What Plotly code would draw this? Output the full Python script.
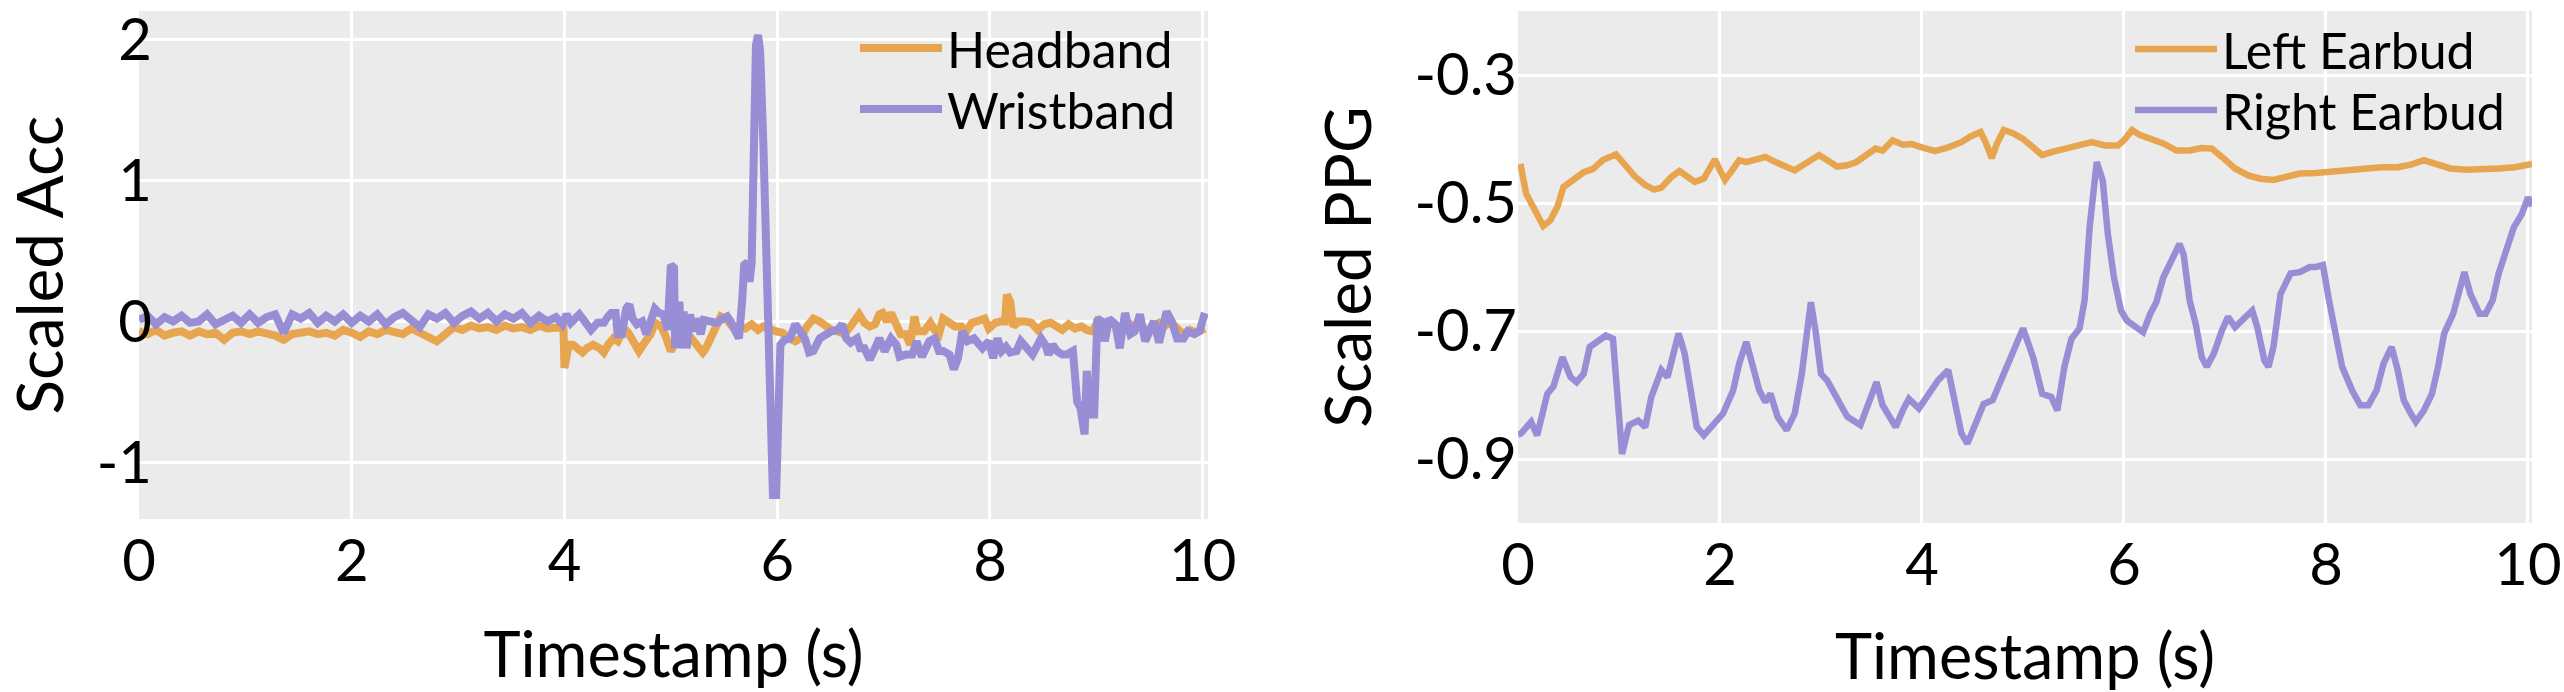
import plotly.graph_objects as go

# ---------------- Left panel: Scaled Acc ----------------
head_t = [0.00, 0.08, 0.16, 0.24, 0.32, 0.40, 0.48, 0.56, 0.64, 0.72, 0.80, 0.88, 0.96, 1.04, 1.12,
          1.20, 1.28, 1.36, 1.44, 1.52, 1.60, 1.68, 1.76, 1.84, 1.92, 2.00, 2.08, 2.16, 2.24, 2.32,
          2.40, 2.48, 2.56, 2.64, 2.72, 2.80, 2.88, 2.96, 3.04, 3.12, 3.20, 3.28, 3.36, 3.44, 3.52,
          3.60, 3.68, 3.76, 3.84, 3.92, 3.99,
          4.00, 4.04, 4.08, 4.12, 4.17, 4.21, 4.27, 4.33, 4.37, 4.41, 4.46, 4.50, 4.56, 4.60, 4.64,
          4.70, 4.74, 4.77, 4.81, 4.85, 4.91, 4.95, 5.00, 5.03, 5.08, 5.14, 5.20, 5.25, 5.30, 5.33,
          5.37, 5.43, 5.47, 5.53, 5.59, 5.64, 5.70, 5.76, 5.82, 5.87, 5.93, 5.99, 6.05, 6.11, 6.17,
          6.22, 6.28, 6.34, 6.40, 6.46, 6.51, 6.57, 6.63, 6.69, 6.73, 6.77, 6.82, 6.87, 6.92, 6.96,
          6.99, 7.03, 7.07, 7.12, 7.16, 7.21, 7.25, 7.29, 7.32, 7.38, 7.44, 7.48, 7.52, 7.56, 7.62,
          7.67, 7.73, 7.77, 7.83, 7.89, 7.95, 7.99, 8.05, 8.10, 8.14, 8.16, 8.19, 8.22, 8.27, 8.33,
          8.39, 8.45, 8.51, 8.57, 8.63, 8.68, 8.74, 8.80, 8.86, 8.91, 8.97, 9.01, 9.07, 9.13, 9.18,
          9.24, 9.30, 9.36, 9.41, 9.47, 9.53, 9.59, 9.64, 9.70, 9.76, 9.82, 9.88, 9.94, 10.02]
head_v = [-0.07, -0.09, -0.06, -0.10, -0.08, -0.07, -0.10, -0.07, -0.09, -0.08, -0.13, -0.08, -0.07, -0.09, -0.07,
          -0.08, -0.10, -0.13, -0.09, -0.08, -0.07, -0.09, -0.08, -0.10, -0.06, -0.08, -0.11, -0.07, -0.09, -0.06,
          -0.07, -0.09, -0.05, -0.08, -0.10, -0.14, -0.09, -0.04, -0.06, -0.03, -0.05, -0.04, -0.06, -0.03, -0.05,
          -0.04, -0.06, -0.03, -0.05, -0.04, -0.04,
          -0.33, -0.165, -0.165, -0.19, -0.22, -0.19, -0.165, -0.19, -0.22, -0.165, -0.12, -0.14, -0.05, -0.08, -0.14,
          -0.21, -0.165, -0.14, -0.09, -0.01, -0.035, -0.105, -0.21, -0.165, -0.06, -0.07, -0.12, -0.165, -0.22, -0.19,
          -0.12, 0.00, 0.035, 0.01, -0.05, -0.035, -0.05, -0.02, -0.06, -0.035, -0.06, -0.07, -0.08, -0.12, -0.14,
          -0.12, -0.035, 0.02, 0.00, -0.035, -0.06, -0.07, -0.09, -0.035, 0.02, 0.05, -0.01, -0.035, -0.02, 0.05,
          0.06, 0.00, 0.06, -0.02, -0.09, -0.09, -0.165, 0.035, -0.07, -0.07, -0.01, -0.06, -0.09, 0.02, -0.02,
          -0.035, -0.035, -0.08, -0.01, 0.00, 0.02, -0.05, -0.01, 0.00, 0.00, 0.19, 0.14, -0.035, 0.00, 0.00,
          -0.01, -0.06, -0.02, -0.01, -0.035, -0.06, -0.02, -0.05, -0.035, -0.06, -0.07, 0.00, -0.035, 0.00, -0.035,
          -0.06, -0.01, -0.035, -0.01, -0.07, -0.035, -0.01, -0.035, 0.00, -0.05, -0.09, -0.06, -0.08, -0.05]

wrist_t = [0.00, 0.08, 0.16, 0.24, 0.32, 0.40, 0.48, 0.56, 0.64, 0.72, 0.80, 0.88, 0.96, 1.04, 1.12,
           1.20, 1.28, 1.36, 1.44, 1.52, 1.60, 1.68, 1.76, 1.84, 1.92, 2.00, 2.08, 2.16, 2.24, 2.32,
           2.40, 2.48, 2.56, 2.64, 2.72, 2.80, 2.88, 2.96, 3.04, 3.12, 3.20, 3.28, 3.36, 3.44, 3.52,
           3.60, 3.68, 3.76, 3.84, 3.92,
           3.98, 4.02, 4.06, 4.14, 4.19, 4.25, 4.31, 4.37, 4.41, 4.44, 4.48, 4.50, 4.54, 4.58, 4.61,
           4.64, 4.68, 4.73, 4.77, 4.81, 4.85, 4.89, 4.93, 4.97, 5.00, 5.03, 5.04, 5.06, 5.08, 5.10,
           5.12, 5.15, 5.18, 5.21, 5.24, 5.28, 5.31, 5.37, 5.43, 5.47, 5.53, 5.57, 5.64, 5.67, 5.69,
           5.72, 5.74, 5.76, 5.78, 5.80, 5.82, 5.84, 5.87, 5.89, 5.92, 5.94, 5.96, 5.99, 6.01, 6.03,
           6.07, 6.12, 6.17, 6.22, 6.26, 6.30, 6.34, 6.40, 6.45, 6.51, 6.57, 6.61, 6.65, 6.69, 6.75,
           6.78, 6.82, 6.87, 6.92, 6.96, 7.01, 7.07, 7.12, 7.15, 7.21, 7.27, 7.31, 7.36, 7.43, 7.48,
           7.52, 7.56, 7.62, 7.66, 7.70, 7.74, 7.79, 7.85, 7.93, 7.99, 8.03, 8.07, 8.11, 8.15, 8.19,
           8.25, 8.29, 8.35, 8.40, 8.45, 8.48, 8.52, 8.55, 8.59, 8.63, 8.68, 8.72, 8.78, 8.82, 8.85,
           8.89, 8.91, 8.94, 8.98, 9.01, 9.05, 9.08, 9.12, 9.18, 9.22, 9.27, 9.32, 9.36, 9.41, 9.46,
           9.50, 9.54, 9.59, 9.66, 9.71, 9.76, 9.82, 9.86, 9.92, 9.97, 10.02]
wrist_v = [0.01, 0.04, -0.02, 0.03, 0.00, 0.04, -0.01, 0.00, 0.05, -0.02, 0.01, 0.04, -0.01, 0.05, -0.01,
           0.03, 0.05, -0.08, 0.05, 0.02, 0.06, -0.01, 0.04, 0.00, 0.05, -0.01, 0.04, 0.00, 0.05, -0.02,
           0.03, 0.06, 0.01, -0.04, 0.05, 0.02, 0.06, -0.01, 0.04, 0.07, 0.02, 0.06, 0.00, 0.05, 0.02,
           0.06, -0.01, 0.04, 0.00, 0.03,
           -0.02, 0.05, -0.01, 0.05, 0.00, -0.06, -0.01, -0.01, 0.035, 0.06, 0.06, -0.09, -0.09, 0.09, 0.12,
           0.02, -0.02, 0.00, -0.09, 0.00, 0.09, 0.06, 0.05, -0.06, 0.40, 0.38, -0.19, 0.00, 0.14, -0.19,
           0.07, -0.19, 0.05, -0.07, 0.02, -0.09, 0.01, 0.00, -0.01, 0.01, 0.035, -0.01, -0.12, 0.14, 0.40,
           0.42, 0.28, 0.42, 1.27, 1.96, 2.03, 1.91, 1.25, 0.61, 0.00, -0.75, -1.23, -1.23, -0.47, -0.165,
           -0.13, -0.12, -0.02, -0.09, -0.12, -0.22, -0.21, -0.12, -0.09, -0.07, -0.06, -0.02, -0.12, -0.15, -0.12,
           -0.19, -0.19, -0.27, -0.19, -0.12, -0.21, -0.12, -0.165, -0.25, -0.235, -0.235, -0.14, -0.25, -0.14, -0.12,
           -0.21, -0.21, -0.235, -0.34, -0.26, -0.07, -0.14, -0.12, -0.19, -0.14, -0.26, -0.12, -0.21, -0.18, -0.22,
           -0.21, -0.14, -0.19, -0.235, -0.165, -0.12, -0.165, -0.235, -0.165, -0.21, -0.235, -0.235, -0.21, -0.57, -0.61,
           -0.80, -0.35, -0.66, -0.66, 0.02, 0.00, -0.14, 0.02, -0.02, -0.19, 0.06, -0.09, -0.07, 0.05, -0.14,
           -0.07, 0.00, -0.15, 0.07, 0.00, -0.12, -0.12, -0.07, -0.09, -0.07, 0.06]

# ---------------- Right panel: Scaled PPG ----------------
left_t = [0.00, 0.03, 0.08, 0.16, 0.25, 0.32, 0.39, 0.45, 0.55, 0.65, 0.74, 0.84, 0.97, 1.06, 1.16,
          1.26, 1.35, 1.42, 1.52, 1.60, 1.68, 1.75, 1.84, 1.90, 1.95, 2.00, 2.05, 2.12, 2.19, 2.26,
          2.35, 2.45, 2.55, 2.65, 2.74, 2.84, 2.92, 2.98, 3.06, 3.16, 3.26, 3.35, 3.45, 3.54, 3.61,
          3.71, 3.81, 3.90, 4.00, 4.13, 4.26, 4.39, 4.48, 4.58, 4.63, 4.69, 4.74, 4.81, 4.90, 5.00,
          5.10, 5.19, 5.29, 5.42, 5.55, 5.68, 5.81, 5.94, 6.00, 6.08, 6.16, 6.26, 6.39, 6.52, 6.65,
          6.77, 6.87, 6.97, 7.10, 7.23, 7.35, 7.48, 7.61, 7.74, 7.90, 8.06, 8.23, 8.39, 8.55, 8.71,
          8.84, 8.97, 9.10, 9.23, 9.39, 9.55, 9.71, 9.87, 10.04]
left_v = [-0.445, -0.444, -0.485, -0.511, -0.536, -0.527, -0.506, -0.475, -0.462, -0.452, -0.447, -0.433, -0.424, -0.441, -0.459,
          -0.472, -0.479, -0.476, -0.459, -0.450, -0.459, -0.467, -0.462, -0.446, -0.432, -0.449, -0.464, -0.449, -0.433, -0.436,
          -0.432, -0.428, -0.436, -0.443, -0.449, -0.439, -0.431, -0.425, -0.433, -0.443, -0.441, -0.436, -0.425, -0.415, -0.418,
          -0.402, -0.409, -0.408, -0.413, -0.419, -0.413, -0.405, -0.396, -0.389, -0.405, -0.430, -0.408, -0.386, -0.391, -0.400,
          -0.413, -0.425, -0.420, -0.415, -0.410, -0.405, -0.410, -0.410, -0.402, -0.386, -0.394, -0.400, -0.407, -0.418, -0.418,
          -0.414, -0.415, -0.428, -0.446, -0.457, -0.462, -0.464, -0.459, -0.454, -0.453, -0.451, -0.449, -0.445, -0.444, -0.444,
          -0.440, -0.433, -0.440, -0.446, -0.448, -0.448, -0.446, -0.444, -0.439]

right_t = [0.00, 0.03, 0.13, 0.19, 0.29, 0.35, 0.44, 0.52, 0.58, 0.65, 0.71, 0.81, 0.87, 0.94, 0.98,
           1.03, 1.10, 1.19, 1.26, 1.32, 1.42, 1.48, 1.54, 1.59, 1.65, 1.71, 1.77, 1.84, 1.94, 2.03,
           2.13, 2.19, 2.26, 2.32, 2.39, 2.45, 2.50, 2.57, 2.66, 2.74, 2.81, 2.86, 2.90, 2.95, 3.00,
           3.06, 3.16, 3.26, 3.39, 3.48, 3.55, 3.61, 3.74, 3.81, 3.87, 3.97, 4.06, 4.16, 4.26, 4.32,
           4.39, 4.45, 4.52, 4.61, 4.70, 4.81, 4.90, 5.00, 5.10, 5.19, 5.28, 5.34, 5.41, 5.48, 5.56,
           5.61, 5.66, 5.73, 5.79, 5.84, 5.90, 5.97, 6.03, 6.13, 6.19, 6.26, 6.32, 6.39, 6.45, 6.55,
           6.59, 6.65, 6.71, 6.77, 6.82, 6.89, 6.97, 7.03, 7.10, 7.19, 7.27, 7.32, 7.39, 7.43, 7.48,
           7.55, 7.65, 7.74, 7.84, 7.90, 7.97, 8.03, 8.10, 8.16, 8.26, 8.34, 8.42, 8.50, 8.57, 8.65,
           8.71, 8.77, 8.84, 8.89, 8.97, 9.05, 9.11, 9.17, 9.26, 9.34, 9.37, 9.43, 9.52, 9.58, 9.65,
           9.71, 9.79, 9.86, 9.94, 10.00, 10.04]
right_v = [-0.862, -0.860, -0.842, -0.863, -0.798, -0.787, -0.741, -0.772, -0.780, -0.767, -0.725, -0.715, -0.707, -0.712, -0.782,
           -0.892, -0.847, -0.840, -0.850, -0.803, -0.761, -0.772, -0.735, -0.704, -0.735, -0.788, -0.850, -0.863, -0.847, -0.829,
           -0.793, -0.751, -0.717, -0.756, -0.793, -0.811, -0.798, -0.834, -0.855, -0.829, -0.767, -0.704, -0.655, -0.704, -0.767,
           -0.777, -0.808, -0.834, -0.847, -0.808, -0.780, -0.816, -0.850, -0.824, -0.806, -0.821, -0.798, -0.777, -0.761, -0.808,
           -0.860, -0.876, -0.850, -0.814, -0.808, -0.767, -0.735, -0.696, -0.741, -0.798, -0.803, -0.824, -0.756, -0.712, -0.696,
           -0.652, -0.538, -0.436, -0.465, -0.548, -0.616, -0.668, -0.684, -0.694, -0.702, -0.673, -0.655, -0.616, -0.595, -0.564,
           -0.580, -0.652, -0.689, -0.741, -0.756, -0.735, -0.699, -0.678, -0.694, -0.681, -0.668, -0.694, -0.746, -0.756, -0.725,
           -0.642, -0.610, -0.608, -0.600, -0.600, -0.597, -0.652, -0.715, -0.756, -0.793, -0.816, -0.816, -0.793, -0.751, -0.725,
           -0.761, -0.808, -0.829, -0.842, -0.824, -0.798, -0.756, -0.704, -0.673, -0.621, -0.608, -0.642, -0.673, -0.673, -0.652,
           -0.610, -0.569, -0.538, -0.517, -0.491, -0.505]

x_ticks = [0, 2, 4, 6, 8, 10]
acc_ticks = [-1, 0, 1, 2]
acc_ticktext = ["-1", "0", "1", "2"]
ppg_ticks = [-0.9, -0.7, -0.5, -0.3]
ppg_ticktext = ["-0.9", "-0.7", "-0.5", "-0.3"]

ORANGE = "#E8A550"
PURPLE = "#988ED5"
FONT = "Lato"

fig = go.Figure()
fig.add_trace(go.Scatter(x=head_t, y=head_v, mode="lines", name="Headband",
                         line=dict(color=ORANGE, width=8), xaxis="x", yaxis="y", legend="legend"))
fig.add_trace(go.Scatter(x=wrist_t, y=wrist_v, mode="lines", name="Wristband",
                         line=dict(color=PURPLE, width=8), xaxis="x", yaxis="y", legend="legend2"))
fig.add_trace(go.Scatter(x=left_t, y=left_v, mode="lines", name="Left Earbud",
                         line=dict(color=ORANGE, width=6.5), xaxis="x2", yaxis="y2", legend="legend3"))
fig.add_trace(go.Scatter(x=right_t, y=right_v, mode="lines", name="Right Earbud",
                         line=dict(color=PURPLE, width=6.5), xaxis="x2", yaxis="y2", legend="legend4"))

# Body margin is removed by post_script, so pixel targets are page coordinates.
W, H = 2564, 692
ml, mt = 139, 10
mr = W - 2532
mb = H - 523
pw = W - ml - mr
ph = H - mt - mb


def px_x(X):
    return (X - ml) / pw


def px_y(Y):
    return 1 - (Y - mt) / ph


axis_common = dict(showgrid=True, gridcolor="white", gridwidth=2.5, zeroline=False, automargin=False,
                   showline=False, ticks="", ticklabeloverflow="allow",
                   tickfont=dict(size=58, family=FONT, color="black"))


def leg(xl, yc):
    return dict(x=px_x(xl), y=px_y(yc), xanchor="left", yanchor="middle",
                bgcolor="rgba(0,0,0,0)", borderwidth=0,
                font=dict(size=50, family=FONT, color="black"), itemwidth=82)


fig.update_layout(
    width=W, height=H,
    margin=dict(l=ml, r=mr, t=mt, b=mb, pad=0),
    paper_bgcolor="white", plot_bgcolor="#EBEBEB",
    font=dict(family=FONT, color="black"),
    xaxis=dict(domain=[0, px_x(1208)], range=[0, 10.05], tickvals=x_ticks, anchor="y",
               title=dict(text="Timestamp (s)", font=dict(size=63), standoff=40),
               ticklabelstandoff=3, **axis_common),
    yaxis=dict(domain=[px_y(519), 1], range=[-1.40, 2.2], tickvals=acc_ticks, ticktext=acc_ticktext,
               anchor="x", title=dict(text="Scaled Acc", font=dict(size=64), standoff=29),
               ticklabelstandoff=-14, **axis_common),
    xaxis2=dict(domain=[px_x(1518), 1], range=[0, 10.04], tickvals=x_ticks, anchor="y2",
                title=dict(text="Timestamp (s)", font=dict(size=63), standoff=40),
                ticklabelstandoff=3, **axis_common),
    yaxis2=dict(domain=[0, 1], range=[-1.0, -0.2], tickvals=ppg_ticks, ticktext=ppg_ticktext, anchor="x2",
                title=dict(text="Scaled PPG", font=dict(size=64), standoff=22),
                ticklabelstandoff=0, **axis_common),
    legend=leg(855, 48),
    legend2=leg(855, 109),
    legend3=leg(2130, 49),
    legend4=leg(2130, 110),
    showlegend=True,
)

fig.write_html("out.html", config={"displayModeBar": False},
               post_script="document.body.style.margin='0';")
